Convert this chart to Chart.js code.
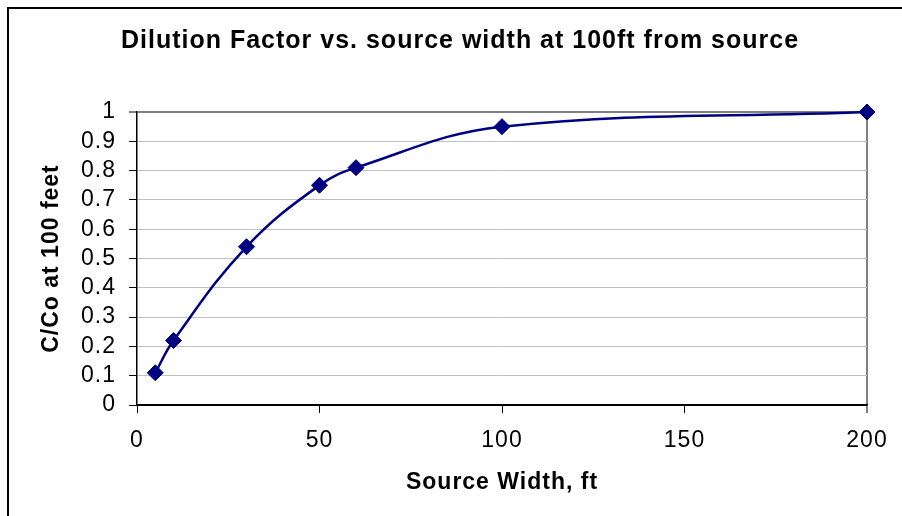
<!DOCTYPE html>
<html>
<head>
<meta charset="utf-8">
<script src="https://cdn.jsdelivr.net/npm/chart.js@4.4.0/dist/chart.umd.min.js"></script>
<style>
  html, body { margin: 0; padding: 0; background: #fff; }
  canvas { display: block; }
</style>
</head>
<body>
<canvas id="dilutionChart" width="902" height="516"></canvas>
<script>
// Relative concentration at 100 ft for different source widths
const sourceWidths = [5, 10, 30, 50, 60, 100, 200];
const concRatios = [0.11, 0.22, 0.54, 0.75, 0.81, 0.95, 1.0];
const xTickValues = [0, 50, 100, 150, 200];
const yTickValues = [0, 0.1, 0.2, 0.3, 0.4, 0.5, 0.6, 0.7, 0.8, 0.9, 1];

const NAVY = '#000080';
const FONT = "Arial, 'Liberation Sans', sans-serif";

// Excel-ish look: outer frame and slightly spaced lettering
const excelLook = {
    id: 'excelLook',
    beforeLayout(chart) {
        chart.ctx.letterSpacing = '1px';
    },
    beforeDraw(chart) {
        const ctx = chart.ctx;
        ctx.save();
        ctx.fillStyle = '#fff';
        ctx.fillRect(0, 0, chart.width, chart.height);
        ctx.strokeStyle = '#000';
        ctx.lineWidth = 2;
        ctx.beginPath();
        ctx.moveTo(8, chart.height);
        ctx.lineTo(8, 8);
        ctx.lineTo(chart.width, 8);
        ctx.stroke();
        ctx.restore();
        ctx.letterSpacing = '1px';
    }
};

const lastX = xTickValues[xTickValues.length - 1];
const lastY = yTickValues[yTickValues.length - 1];

new Chart(document.getElementById('dilutionChart'), {
    type: 'line',
    data: {
        datasets: [{
            label: 'C/Co',
            data: sourceWidths.map((w, i) => ({ x: w, y: concRatios[i] })),
            borderColor: NAVY,
            backgroundColor: NAVY,
            borderWidth: 2.5,
            tension: 0.4,
            pointStyle: 'rectRot',
            pointRadius: 8,
            pointBackgroundColor: NAVY,
            pointBorderColor: NAVY,
            pointBorderWidth: 1,
            clip: false
        }]
    },
    options: {
        responsive: false,
        animation: false,
        devicePixelRatio: 1,
        layout: { padding: { top: 8, left: 18, right: 0, bottom: 0 } },
        scales: {
            x: {
                type: 'linear',
                min: 0,
                max: lastX,
                afterBuildTicks: s => { s.ticks = xTickValues.map(v => ({ value: v })); },
                afterFit: s => { s.height = 111; },
                grid: {
                    color: c => (c.tick && c.tick.value === lastX) ? '#808080' : 'rgba(0,0,0,0)',
                    lineWidth: c => (c.tick && c.tick.value === lastX) ? 2 : 1,
                    tickColor: '#000',
                    tickLength: 8,
                    tickWidth: 1
                },
                border: { color: '#000', width: 1.5 },
                ticks: {
                    color: '#000',
                    font: { family: FONT, size: 23 },
                    padding: 14,
                    maxRotation: 0,
                    autoSkip: false,
                    callback: v => String(v)
                },
                title: {
                    display: true,
                    text: 'Source Width, ft',
                    color: '#000',
                    font: { family: FONT, size: 23, weight: 'bold' },
                    padding: { top: 0, bottom: 20 }
                }
            },
            y: {
                type: 'linear',
                min: 0,
                max: lastY,
                afterBuildTicks: s => { s.ticks = yTickValues.map(v => ({ value: v })); },
                afterFit: s => { s.width = 119; },
                grid: {
                    color: c => {
                        if (!c.tick) return '#c0c0c0';
                        if (c.tick.value === lastY) return '#808080';
                        if (c.tick.value === 0) return '#000';
                        return '#c0c0c0';
                    },
                    lineWidth: c => (c.tick && c.tick.value === lastY) ? 2 : 1,
                    tickColor: '#000',
                    tickLength: 8,
                    tickWidth: 1
                },
                border: { color: '#000', width: 1.5 },
                ticks: {
                    color: '#000',
                    font: { family: FONT, size: 23 },
                    padding: 13,
                    autoSkip: false,
                    callback: v => String(v)
                },
                title: {
                    display: true,
                    text: 'C/Co at 100 feet',
                    color: '#000',
                    font: { family: FONT, size: 23, weight: 'bold' },
                    padding: { top: 20, bottom: 0 }
                }
            },
            // empty right-hand axis just to reserve margin so the title centres like the original
            yRight: {
                type: 'linear',
                position: 'right',
                display: true,
                grid: { display: false },
                ticks: { display: false },
                border: { display: false },
                afterFit: s => { s.width = 35; }
            }
        },
        plugins: {
            legend: { display: false },
            tooltip: { enabled: false },
            title: {
                display: true,
                text: 'Dilution Factor vs. source width at 100ft from source',
                color: '#000',
                font: { family: FONT, size: 25, weight: 'bold' },
                padding: { top: 18, bottom: 56 }
            }
        }
    },
    plugins: [excelLook]
});
</script>
</body>
</html>
